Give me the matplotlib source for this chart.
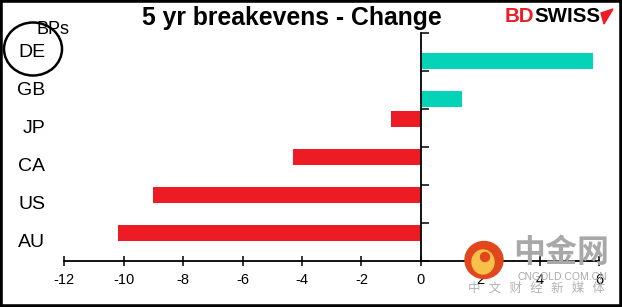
import numpy as np
import matplotlib
matplotlib.use("Agg")
import matplotlib.pyplot as plt
import matplotlib.patches as mpatches
import matplotlib.transforms as mtransforms

plt.rcParams['font.family'] = ['Liberation Sans', 'DejaVu Sans']

# data (BPs)
countries = ["DE", "GB", "JP", "CA", "US", "AU"]
falling = [0, 0, -1.0, -4.3, -9.0, -10.2]
rising = [5.8, 1.4, 0, 0, 0, 0]
xticks = [-12, -10, -8, -6, -4, -2, 0, 2, 4, 6]

red = "#ED1C24"
teal = "#04D3B8"

W, H = 622, 307
fig = plt.figure(figsize=(W / 100, H / 100), dpi=100)
ax = fig.add_axes([0.1034, 0.1489, 0.8597, 0.7427])

y = np.arange(len(countries))
ax.barh(y - 0.235, falling, height=0.42, color=red, linewidth=0)
ax.barh(y + 0.235, rising, height=0.42, color=teal, linewidth=0)

ax.set_xlim(-12, 6)
ax.set_ylim(len(countries) - 0.5, -0.5)

for s in ["top", "right"]:
    ax.spines[s].set_visible(False)
ax.spines["left"].set_position(("data", 0))
ax.spines["left"].set_linewidth(1.3)
ax.spines["bottom"].set_linewidth(1.3)

ax.set_yticks(np.arange(-0.5, len(countries), 1.0))
ax.set_yticklabels([])
ax.tick_params(axis="y", direction="in", length=5.5, width=1.1)

ax.set_xticks(xticks)
ax.set_xticklabels([str(t) for t in xticks], fontsize=10.5)
ax.tick_params(axis="x", direction="inout", length=7.5, width=1.1, pad=5)

# category labels sit at the far left of the figure
trans = mtransforms.blended_transform_factory(fig.transFigure, ax.transData)
for i, c in enumerate(countries):
    ax.text(0.0725, i, c, transform=trans, ha="right", va="center", fontsize=14)

fig.text(292 / W, 1 - 18 / H, "5 yr breakevens - Change", ha="center", va="center",
         fontsize=17.8, fontweight="bold")
fig.text(37 / W, 1 - 29 / H, "BPs", ha="left", va="center", fontsize=13)

# circle around DE
fig.patches.append(mpatches.Ellipse((33 / W, 1 - 49 / H), 58 / W, 53 / H,
                                    transform=fig.transFigure, fill=False,
                                    edgecolor="black", linewidth=1.8))

# BDSWISS logo
t1 = fig.text(505 / W, 1 - 17 / H, "BD", ha="left", va="center",
              fontsize=14.8, fontweight="bold", color=red)
fig.canvas.draw()
bb = t1.get_window_extent()
fig.text(bb.x1 / W, 1 - 17 / H, "SWISS", ha="left", va="center",
         fontsize=14.8, fontweight="bold", color="black")
fig.patches.append(mpatches.Polygon([(601 / W, 1 - 13 / H), (613 / W, 1 - 9 / H),
                                     (604 / W, 1 - 24 / H)],
                                    transform=fig.transFigure, color=red))

# CNGOLD watermark
fig.patches.append(mpatches.Ellipse((484 / W, 1 - 260 / H), 38 / W, 37 / H,
                                    transform=fig.transFigure, color="#E2461C", zorder=5))
fig.patches.append(mpatches.Ellipse((483 / W, 1 - 262 / H), 22 / W, 24 / H,
                                    transform=fig.transFigure, color="#F7C04A", zorder=6))
fig.patches.append(mpatches.Ellipse((485 / W, 1 - 257 / H), 9 / W, 9 / H,
                                    transform=fig.transFigure, color="#E2461C", zorder=7))
fig.text(561 / W, 1 - 253 / H, "中金网", ha="center", va="center", fontsize=23,
         fontweight="bold", color="#A8A8A8", family=["Noto Sans CJK SC"], zorder=5)
fig.text(562 / W, 1 - 277 / H, "CNGOLD.COM.CN", ha="center", va="center",
         fontsize=7.5, color="#A8A8A8", zorder=5)
fig.text(536.5 / W, 1 - 288 / H, "中   文   财   经   新   媒   体", ha="center",
         va="center", fontsize=9, color="#B4B4B4", family=["Noto Sans CJK SC"], zorder=5)

# outer frame
fig.patches.append(mpatches.Rectangle((0, 0), 1, 1, transform=fig.transFigure,
                                      fill=False, edgecolor="black", linewidth=4))

fig.savefig("out.png", dpi=100)
